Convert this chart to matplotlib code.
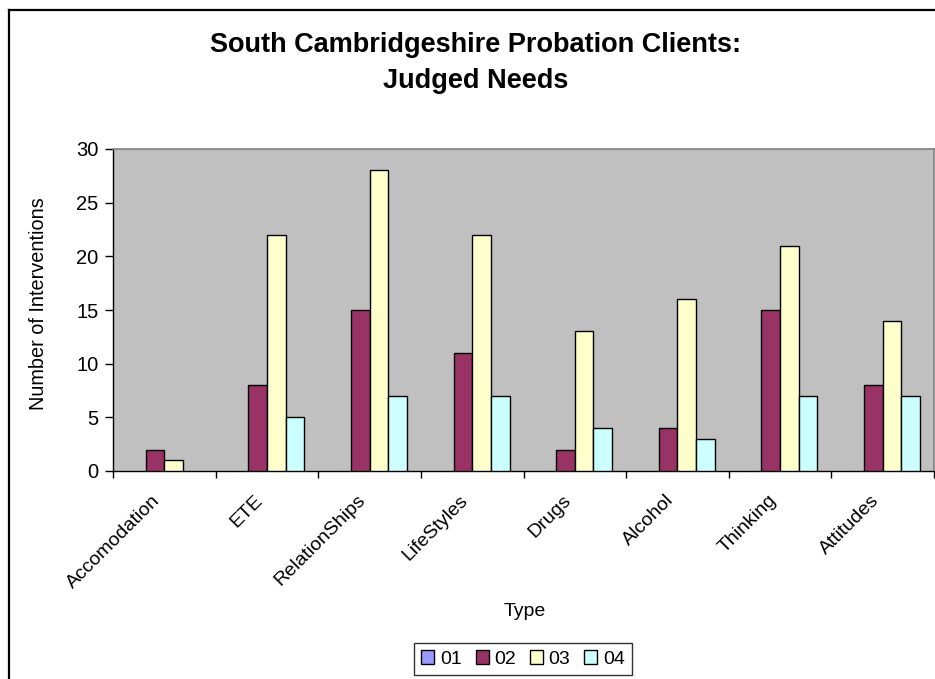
import matplotlib
matplotlib.use("Agg")
import matplotlib.pyplot as plt
import numpy as np
from matplotlib.patches import Patch
from matplotlib.lines import Line2D

categories = ["Accomodation", "ETE", "RelationShips", "LifeStyles",
              "Drugs", "Alcohol", "Thinking", "Attitudes"]
series_names = ["01", "02", "03", "04"]
s01 = [0, 0, 0, 0, 0, 0, 0, 0]
s02 = [2, 8, 15, 11, 2, 4, 15, 8]
s03 = [1, 22, 28, 22, 13, 16, 21, 14]
s04 = [0, 5, 7, 7, 4, 3, 7, 7]
y_ticks = [0, 5, 10, 15, 20, 25, 30]

colors = ["#9999FF", "#993366", "#FFFFCC", "#CCFFFF"]

plt.rcParams["font.family"] = ["Liberation Sans", "DejaVu Sans"]

W, H = 935, 679
fig = plt.figure(figsize=(W / 100, H / 100), dpi=100)

# outer chart-area frame (left and top edges)
fig.add_artist(Line2D([9 / W, 9 / W], [0, 1 - 10 / H], transform=fig.transFigure,
                      color="black", lw=1.6))
fig.add_artist(Line2D([9 / W, 1], [1 - 10 / H, 1 - 10 / H], transform=fig.transFigure,
                      color="black", lw=1.6))

left, right, top, bottom = 113, 934, 149, 471
ax = fig.add_axes([left / W, 1 - bottom / H, (right - left) / W, (bottom - top) / H])
ax.set_facecolor("#C0C0C0")

n = len(categories)
x = np.arange(n)
bw = 1 / 5.5  # gap width 150%
all_series = [s01, s02, s03, s04]
for k, vals in enumerate(all_series):
    offs = (k - 1.5) * bw
    vals = np.asarray(vals, dtype=float)
    mask = vals > 0
    ax.bar(x[mask] + offs, vals[mask], width=bw, color=colors[k],
           edgecolor="black", linewidth=1.0, zorder=3)

ax.set_xlim(-0.5, n - 0.5)
ax.set_ylim(0, 30)
ax.set_yticks(y_ticks)
ax.tick_params(axis="y", direction="out", length=5.5, width=1, labelsize=14.5, pad=5)

# category boundaries carry the tick marks, labels sit at the centres
ax.set_xticks(np.arange(n + 1) - 0.5)
ax.set_xticklabels([])
ax.tick_params(axis="x", direction="out", length=5, width=1)
for i, c in enumerate(categories):
    ax.annotate(c, xy=(i, 0), xycoords=("data", "axes fraction"),
                xytext=(-9, -15), textcoords="offset points",
                rotation=45, ha="right", va="top", rotation_mode="anchor",
                fontsize=14)

for s in ("top", "right"):
    ax.spines[s].set_color("#808080")
    ax.spines[s].set_linewidth(1.2)
for s in ("left", "bottom"):
    ax.spines[s].set_color("black")
    ax.spines[s].set_linewidth(1.0)

fig.text(525 / W, 1 - 612 / H, "Type", ha="center", va="center", fontsize=14)
fig.text(38.5 / W, 1 - 304 / H, "Number of Interventions", ha="center", va="center",
         rotation=90, fontsize=14.3)

title_lines = ["South Cambridgeshire Probation Clients:", "Judged Needs"]
for line, base in zip(title_lines, [52, 88]):
    fig.text(476 / W, 1 - base / H, line, ha="center", va="baseline",
             fontsize=19.5, fontweight="bold")

handles = [Patch(facecolor=colors[k], edgecolor="black", linewidth=1.0)
           for k in range(4)]
fig.legend(handles, series_names, loc="center", bbox_to_anchor=(523 / W, 1 - 659 / H),
           ncol=4, frameon=True, fancybox=False, edgecolor="black", fontsize=14,
           handlelength=0.67, handleheight=0.67, handletextpad=0.3, columnspacing=0.7,
           borderpad=0.4, borderaxespad=0)
leg = fig.legends[0]
leg.get_frame().set_linewidth(1.0)

fig.savefig("out.png", dpi=100)
